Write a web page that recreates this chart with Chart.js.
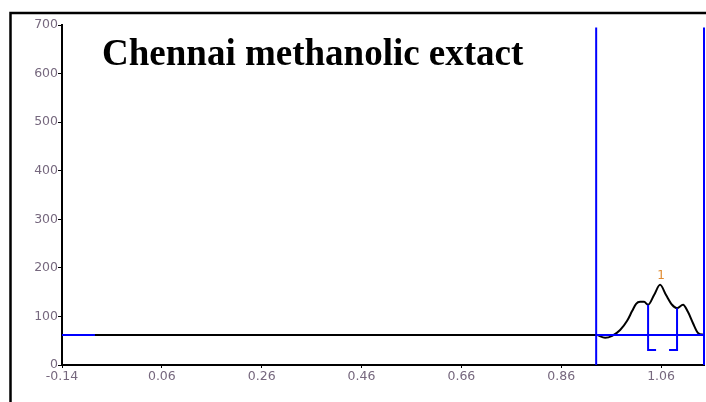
<!DOCTYPE html>
<html>
<head>
<meta charset="utf-8">
<script src="https://cdn.jsdelivr.net/npm/chart.js@4/dist/chart.umd.min.js"></script>
<style>
  html, body { margin: 0; padding: 0; background: #fff; }
  #wrap { width: 706px; height: 402px; position: relative; }
</style>
</head>
<body>
<div id="wrap"><canvas id="chromatogram"></canvas></div>
<script>
// x tick labels (Rf) and y range
const xTicks = [-0.14, 0.06, 0.26, 0.46, 0.66, 0.86, 1.06];
const yTicks = [0, 100, 200, 300, 400, 500, 600, 700];

// scanned trace around the peak
const traceRf = [0.932, 0.948, 0.962, 0.978, 0.992, 1.002, 1.010, 1.018, 1.026, 1.034, 1.046, 1.058, 1.070, 1.082, 1.092, 1.104, 1.114, 1.124, 1.134, 1.146];
const traceAU = [62, 56, 60, 72, 91, 111, 126, 130, 130, 124, 144, 165, 144, 124, 117, 124, 109, 86, 66, 62];

// flat trace before the front
const flatRf = [-0.14, 0.932];
const flatAU = [62, 62];

// blue baseline pieces
const baseLeftRf = [-0.14, -0.074];
const baseRightRf = [0.93, 1.146];
const baseAU = [62, 62];

// start / front markers
const startRf = [0.93, 0.93];
const frontRf = [1.146, 1.146];
const markerAU = [0, 695];

// integration brackets of peak 1
const bracketLeftRf = [1.034, 1.034, 1.050];
const bracketLeftAU = [124, 31, 31];
const bracketRightRf = [1.076, 1.092, 1.092];
const bracketRightAU = [31, 31, 117];

const peakLabel = { text: '1', rf: 1.060, au: 165 };
const titleText = 'Chennai methanolic extact';

function pts(xs, ys) {
  return xs.map((x, i) => ({ x: x, y: ys[i] }));
}

const BLUE = '#0000ff';
const BLACK = '#000000';

function lineSet(data, color, order, extra) {
  return Object.assign({
    data: data,
    showLine: true,
    borderColor: color,
    backgroundColor: color,
    borderWidth: 2,
    pointRadius: 0,
    fill: false,
    order: order
  }, extra || {});
}

// frame + title + peak number
const decorations = {
  id: 'decorations',
  beforeDraw(chart) {
    const ctx = chart.ctx;
    ctx.save();
    ctx.strokeStyle = '#000';
    ctx.lineWidth = 2.5;
    ctx.strokeRect(10.5, 13, 720, 420);
    ctx.restore();
  },
  afterDraw(chart) {
    const ctx = chart.ctx;
    const xs = chart.scales.x, ys = chart.scales.y;
    ctx.save();
    ctx.fillStyle = '#000';
    ctx.font = 'bold 37px "Liberation Serif", "Times New Roman", serif';
    ctx.textBaseline = 'alphabetic';
    ctx.textAlign = 'left';
    ctx.fillText(titleText, 102, 65);

    ctx.fillStyle = '#e08a30';
    ctx.font = '12px "DejaVu Sans", sans-serif';
    ctx.textAlign = 'center';
    ctx.textBaseline = 'bottom';
    ctx.fillText(peakLabel.text, xs.getPixelForValue(peakLabel.rf), ys.getPixelForValue(peakLabel.au) - 3);
    ctx.restore();
  }
};

const tickColor = '#76687e';

new Chart(document.getElementById('chromatogram'), {
  type: 'scatter',
  data: {
    datasets: [
      lineSet(pts(startRf, markerAU), BLUE, 0),
      lineSet(pts(frontRf, markerAU), BLUE, 0, { clip: 4 }),
      lineSet(pts(baseLeftRf, baseAU), BLUE, 0),
      lineSet(pts(baseRightRf, baseAU), BLUE, 0),
      lineSet(pts(bracketLeftRf, bracketLeftAU), BLUE, 0),
      lineSet(pts(bracketRightRf, bracketRightAU), BLUE, 0),
      lineSet(pts(flatRf, flatAU), BLACK, 1),
      lineSet(pts(traceRf, traceAU), BLACK, 1, { cubicInterpolationMode: 'monotone' })
    ]
  },
  options: {
    responsive: true,
    maintainAspectRatio: false,
    animation: false,
    layout: {
      padding: { top: 25, right: 2, left: 0, bottom: 0 }
    },
    plugins: {
      legend: { display: false },
      tooltip: { enabled: false },
      title: { display: false }
    },
    scales: {
      x: {
        type: 'linear',
        min: -0.14,
        max: 1.146,
        afterBuildTicks: function(axis) {
          axis.ticks = xTicks.map(v => ({ value: v }));
        },
        afterFit: function(axis) {
          axis.height = 37;
        },
        grid: {
          drawOnChartArea: false,
          tickLength: 3,
          color: '#000',
          lineWidth: 1
        },
        border: { display: true, color: '#000', width: 2 },
        ticks: {
          color: tickColor,
          padding: 1,
          maxRotation: 0,
          autoSkip: false,
          font: { family: '"DejaVu Sans", sans-serif', size: 12.5 },
          callback: function(value) {
            return value.toFixed(2);
          }
        }
      },
      y: {
        min: 0,
        max: 700,
        afterBuildTicks: function(axis) {
          axis.ticks = yTicks.map(v => ({ value: v }));
        },
        afterFit: function(axis) {
          axis.width = 62;
        },
        grid: {
          drawOnChartArea: false,
          tickLength: 4,
          color: '#000',
          lineWidth: 1
        },
        border: { display: true, color: '#000', width: 2 },
        ticks: {
          color: tickColor,
          padding: 0,
          font: { family: '"DejaVu Sans", sans-serif', size: 12.5 }
        }
      }
    }
  },
  plugins: [decorations]
});
</script>
</body>
</html>
